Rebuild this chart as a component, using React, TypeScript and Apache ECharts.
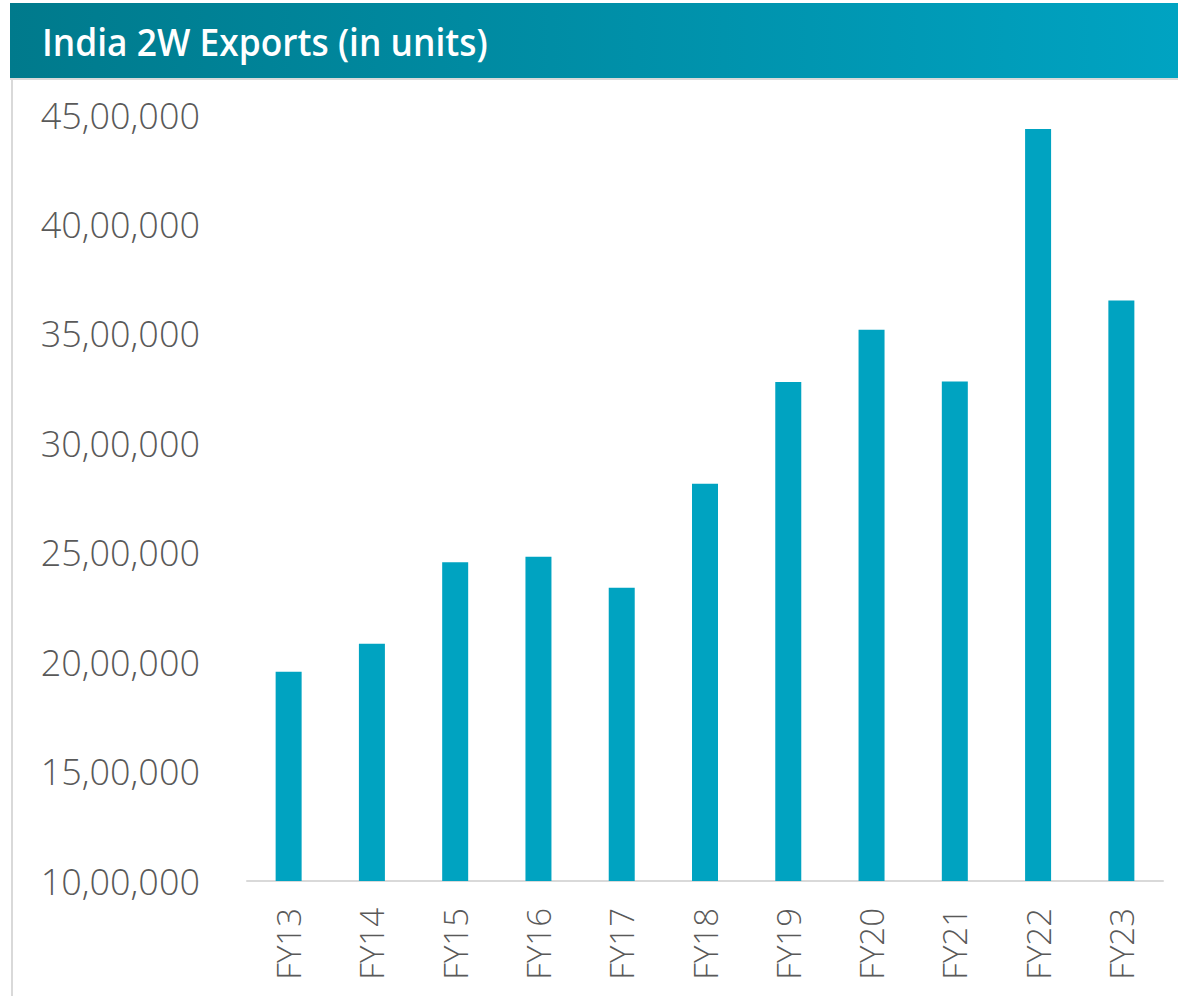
import React, { useEffect, useRef } from "react";
import * as echarts from "echarts";

const categories = ["FY13", "FY14", "FY15", "FY16", "FY17", "FY18", "FY19", "FY20", "FY21", "FY22", "FY23"];
const exportsUnits = [1956000, 2084000, 2457000, 2482000, 2340000, 2815000, 3280000, 3519000, 3282000, 4436000, 3652000];
const yMin = 1000000;
const yMax = 4500000;
const yStep = 500000;
const titleText = "India 2W Exports (in units)";

function formatIndian(v: number): string {
  const s = String(Math.round(v));
  if (s.length <= 3) return s;
  const last3 = s.slice(-3);
  let rest = s.slice(0, -3);
  const parts: string[] = [];
  while (rest.length > 2) {
    parts.unshift(rest.slice(-2));
    rest = rest.slice(0, -2);
  }
  if (rest.length) parts.unshift(rest);
  return parts.join(",") + "," + last3;
}

export default function App() {
  const ref = useRef<HTMLDivElement>(null);
  useEffect(() => {
    if (!ref.current) return;
    const chart = echarts.init(ref.current, null, { renderer: "svg" });
    chart.setOption({
      animation: false,
      backgroundColor: "#ffffff",
      graphic: [
        {
          type: "rect",
          shape: { x: 10, y: 3, width: 1168, height: 75 },
          style: {
            fill: new echarts.graphic.LinearGradient(0, 0, 1, 0, [
              { offset: 0, color: "#007A8C" },
              { offset: 1, color: "#00A3C2" },
            ]),
          },
          z: 1,
        },
        {
          type: "rect",
          shape: { x: 10, y: 78, width: 1168, height: 2 },
          style: { fill: "#D9D9D9" },
        },
        {
          type: "rect",
          shape: { x: 11, y: 80, width: 2, height: 916 },
          style: { fill: "#D9D9D9" },
        },
        {
          type: "text",
          x: 42,
          y: 42,
          scaleX: 0.93,
          style: {
            text: titleText,
            fill: "#ffffff",
            font: "600 38px 'Open Sans'",
            verticalAlign: "middle",
            align: "left",
          },
          z: 2,
        },
      ],
      grid: { left: 247, right: 15, top: 115, bottom: 115 },
      xAxis: {
        type: "category",
        data: categories,
        axisLine: { show: true, lineStyle: { color: "#D9D9D9", width: 2 } },
        axisTick: { show: false },
        axisLabel: {
          rotate: 90,
          margin: 27,
          color: "#595959",
          fontFamily: "Open Sans",
          fontWeight: 300,
          fontSize: 33,
        },
      },
      yAxis: {
        type: "value",
        min: yMin,
        max: yMax,
        interval: yStep,
        axisLine: { show: false },
        axisTick: { show: false },
        splitLine: { show: false },
        axisLabel: {
          margin: 47,
          color: "#595959",
          fontFamily: "Open Sans",
          fontWeight: 300,
          fontSize: 36,
          formatter: (v: number) => formatIndian(v),
        },
      },
      series: [
        {
          type: "bar",
          data: exportsUnits,
          barWidth: 26,
          itemStyle: { color: "#00A3C1" },
        },
      ],
    });
    return () => chart.dispose();
  }, []);
  return <div ref={ref} style={{ position: "absolute", left: 0, top: 0, width: 1178, height: 996 }} />;
}
